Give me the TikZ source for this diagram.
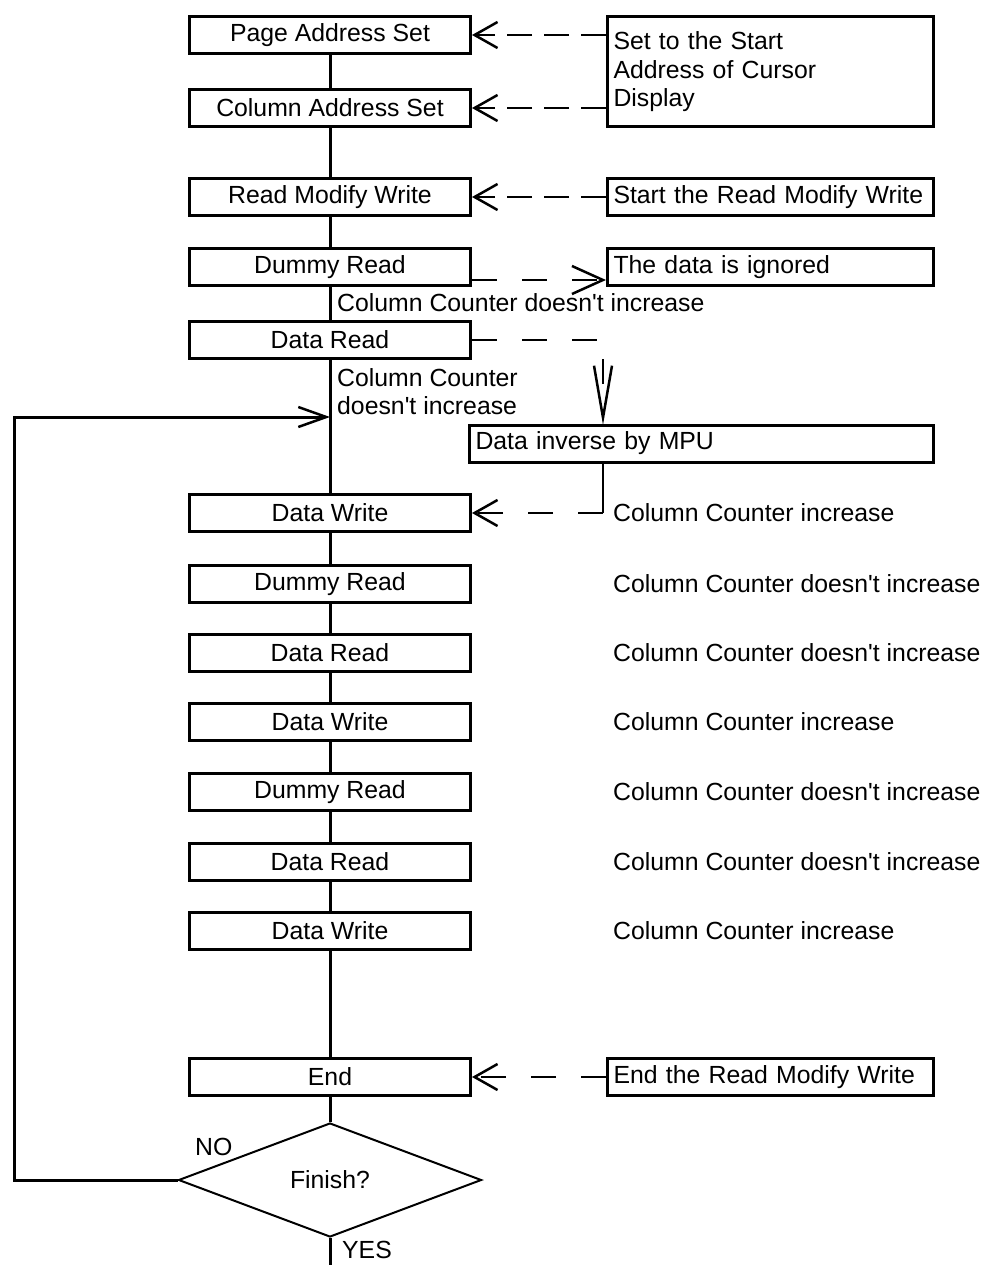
\documentclass[tikz,border=0pt]{standalone}
\usepackage{fontspec}
\setmainfont{Liberation Sans}
\usetikzlibrary{arrows.meta,shapes.geometric}
\tikzset{
  stepbox/.style={draw, line width=3pt, minimum width=281pt, minimum height=37pt, inner sep=0pt},
  notebox/.style={draw, line width=3pt, anchor=west, align=left, minimum height=37pt, inner xsep=6pt, inner ysep=0pt},
  remark/.style={anchor=west, align=left, inner sep=0pt},
  flow/.style={line width=3pt},
  hint/.style={line width=2.5pt, dash pattern=on 25pt off 25pt},
  tighthint/.style={line width=2.5pt, dash pattern=on 25pt off 12pt},
  barb/.style={-{Straight Barb[length=23pt, width=26pt, line width=2.5pt]}},
  bigbarb/.style={-{Straight Barb[length=31pt, width=28pt, line width=2.5pt]}},
  loopbarb/.style={-{Straight Barb[length=28pt, width=20pt, line width=2.5pt]}},
  longbarb/.style={-{Straight Barb[length=52pt, width=18pt, line width=2.5pt]}}
}
\newcommand{\notinc}{Column Counter doesn\textquotesingle t increase}
\begin{document}
\begin{tikzpicture}[x=1pt, y=-1pt, font=\fontsize{24.8pt}{28.5pt}\selectfont]
\useasboundingbox (0,0) rectangle (982,1265);
% main column
\node[stepbox] (page) at (330,35) {Page Address Set};
\node[stepbox] (column) at (330,108) {Column Address Set};
\node[stepbox] (rmw) at (330,197) {Read Modify Write};
\node[stepbox] (dummy1) at (330,267) {Dummy Read};
\node[stepbox] (read1) at (330,340) {Data Read};
\node[stepbox] (write1) at (330,513) {Data Write};
\node[stepbox] (dummy2) at (330,584) {Dummy Read};
\node[stepbox] (read2) at (330,653) {Data Read};
\node[stepbox] (write2) at (330,722) {Data Write};
\node[stepbox] (dummy3) at (330,792) {Dummy Read};
\node[stepbox] (read3) at (330,862) {Data Read};
\node[stepbox] (write3) at (330,931) {Data Write};
\node[stepbox] (end) at (330,1077) {End};
\node[draw, diamond, line width=2pt, minimum width=303pt, minimum height=114pt, aspect=2.66, inner sep=0pt] (finish) at (330,1180) {Finish?};
% side notes
\node[notebox, text width=314pt, minimum height=110pt] (setnote) at (606,72) {Set to the Start\\Address of Cursor\\Display};
\node[notebox, text width=314pt] (rmwnote) at (606,197) {Start the Read Modify Write};
\node[notebox, text width=314pt] (ignnote) at (606,267) {The data is ignored};
\node[notebox, text width=452pt] (inv) at (468,443.5) {Data inverse by MPU};
\node[notebox, text width=314pt] (endnote) at (606,1077) {End the Read Modify Write};
% counter remarks
\node[remark] (cc1) at (337,303) {\notinc};
\node[remark] (cc2) at (337,391.5) {Column Counter\\doesn\textquotesingle t increase};
\node[remark] (cw1) at (613,513) {Column Counter increase};
\node[remark] (cd2) at (613,584) {\notinc};
\node[remark] (cr2) at (613,653) {\notinc};
\node[remark] (cw2) at (613,722) {Column Counter increase};
\node[remark] (cd3) at (613,792) {\notinc};
\node[remark] (cr3) at (613,862) {\notinc};
\node[remark] (cw3) at (613,931) {Column Counter increase};
\node[remark] (no) at (195,1147) {NO};
\node[remark] (yes) at (342,1250) {YES};
% coordinates
\coordinate (loopin) at (330,417);
\coordinate (ignin) at (606,280);
\coordinate (invtop) at (603,425);
\coordinate (wrcorner) at (603,513);
\coordinate (exit) at (330,1265);
% flow lines
\draw[flow] (page) -- (column);
\draw[flow] (column) -- (rmw);
\draw[flow] (rmw) -- (dummy1);
\draw[flow] (dummy1) -- (read1);
\draw[flow] (read1) -- (write1);
\draw[flow] (write1) -- (dummy2);
\draw[flow] (dummy2) -- (read2);
\draw[flow] (read2) -- (write2);
\draw[flow] (write2) -- (dummy3);
\draw[flow] (dummy3) -- (read3);
\draw[flow] (read3) -- (write3);
\draw[flow] (write3) -- (end);
\draw[flow] (end) -- (finish);
\draw[flow] (finish) -- (exit);
\draw[flow, loopbarb] (finish.west) -- ++(-163,0) |- (loopin);
% dashed hints
\draw[tighthint, barb] (page.east -| setnote.west) -- (page.east);
\draw[tighthint, barb] (column.east -| setnote.west) -- (column.east);
\draw[tighthint, barb] (rmwnote.west) -- (rmw.east);
\draw[hint, bigbarb] (dummy1.east |- ignin) -- (ignin);
\draw[hint, longbarb] (read1.east) -| (invtop);
\draw[line width=2.5pt] (invtop |- inv.south) -- (wrcorner);
\draw[hint, barb] (wrcorner) -- (write1.east);
\draw[hint, barb] (endnote.west) -- (end.east);
\end{tikzpicture}
\end{document}
